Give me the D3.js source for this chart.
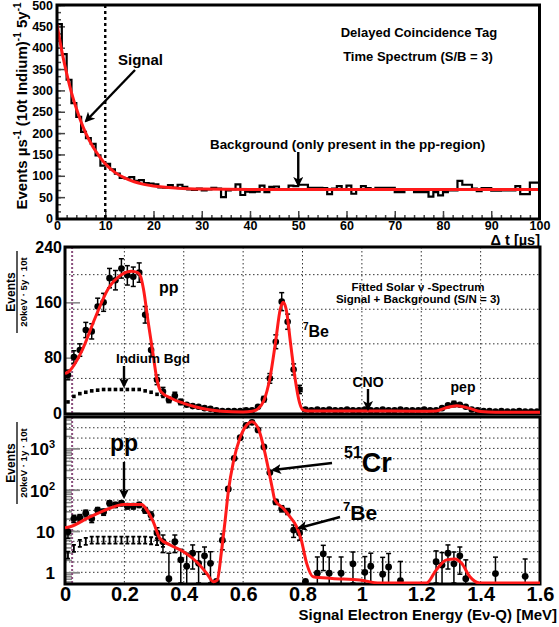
<!DOCTYPE html>
<html><head><meta charset="utf-8">
<script src="https://cdn.jsdelivr.net/npm/d3@7"></script>
<style>
body{margin:0;background:#fff;}
svg text{font-family:"Liberation Sans",Arial,Helvetica,sans-serif;font-weight:bold;fill:#000;}
</style></head><body>
<svg id="chart" width="559" height="627"></svg>
<script>
// ---------------- DATA ----------------
// Top panel: delayed-coincidence time spectrum, 1 µs bins starting at 0
const timeCounts = [
 455,385,325,270,238,203,188,175,148,124,
 128,115,105,95,94,97,88,90,83,82,
 80,73,72,78,72,79,74,68,67,70,
 66,68,72,70,50,66,68,80,55,63,
 62,63,77,62,74,75,67,68,77,76,
 79,79,72,72,72,71,57,70,76,67,
 77,58,68,76,71,68,72,72,72,72,
 62,62,68,68,62,62,62,51,62,54,
 62,66,66,88,79,79,70,64,71,71,
 65,65,66,66,66,76,57,57,84,84];
// fitted curve [t, value]
const timeFit = [[0,455],[1,392],[2,340],[3,295],[4,258],[5,226],[6,199],[7,177],[8,158],[9,142],
 [10,128],[12,108],[14,95],[16,86],[18,80],[20,76],[25,71],[30,69],[40,68],[100,68]];
const timeYTicks = [0,50,100,150,200,250,300,350,400,450,500];
const timeXTicks = [0,10,20,30,40,50,60,70,80,90,100];
const signalWindow = 10;

// Middle panel: fitted solar spectrum, 20 keV bins (centres 0.01 ... 1.59 MeV)
const binWidth = 0.02;
const specCounts = [
 55,81,91,120,118,154,160,195,192,209,
 199,197,203,142,91,48,31,19,25,16,
 12,10,9,7,6,4,3,3,3,3,
 4,4,9,20,50,103,161,132,63,34,
 5,4,5,4,5,4,4,5,4,4,
 5,4,4,5,4,4,5,4,4,4,
 5,4,4,7,11,13,12,9,5,4,
 3,3,2,3,2,2,3,2,2,2];
const specErrors = [
 7,9,9,11,11,12,13,14,14,14,
 14,14,14,12,9,7,6,4,5,4,
 3,3,3,3,2,2,2,2,2,2,
 2,2,3,4,7,10,13,11,8,6,
 2,2,2,2,2,2,2,2,2,2,
 2,2,2,2,2,2,2,2,2,2,
 2,2,2,3,3,4,3,3,2,2,
 2,2,2,2,2,2,2,2,2,2];
const specFit = [[0,57],[0.013,60],[0.056,89],[0.101,137],[0.146,180],[0.19,200],[0.224,205],[0.245,203],
 [0.255,197],[0.264,180],[0.28,132],[0.297,84],[0.309,50],[0.323,31],[0.359,21],[0.4,14],[0.438,9],
 [0.48,5],[0.527,2.5],[0.6,1.5],[0.63,2.5],[0.65,6],[0.67,18],[0.69,50],[0.71,105],[0.725,150],
 [0.735,160],[0.745,150],[0.76,100],[0.775,50],[0.79,15],[0.8,5],[0.82,3],[1.0,3],[1.2,2.5],
 [1.25,3],[1.28,7],[1.32,10.5],[1.36,7],[1.4,2],[1.45,1],[1.6,1]];
const indiumBgd = [16,24,28,30,32,33,34,34,34,34,34,34,34,32,30,27,24];
const specYTicks = [0,80,160,240];
const specYGrid = [50,100,150,200];
const energyTicks = [0,0.2,0.4,0.6,0.8,1,1.2,1.4,1.6];
const thresholdE = 0.024;

// Bottom panel: 51Cr source spectrum (log) [E, value, error]
const crPoints = [
 [0.01,9.6,3],[0.03,20,4],[0.05,21,4],[0.07,27,5],[0.09,20,4],[0.11,32,5],[0.13,29,5],[0.15,47,6],
 [0.17,43,6],[0.19,47,6],[0.21,40,6],[0.23,40,6],[0.25,43,6],[0.27,32,5],[0.29,24,5],[0.31,9,3],
 [0.33,5.5,2.5],[0.35,0.7,2.2],[0.37,5.5,2.5],[0.39,2.0,1.6],[0.41,1.4,1.5],[0.43,2.9,1.7],
 [0.45,1.65,1.5],[0.47,2.5,1.6],[0.49,1.65,1.5],[0.51,0.6,0],[0.53,6,2.5],[0.55,104,10],
 [0.57,575,25],[0.59,1820,40],[0.61,3600,60],[0.63,4270,65],[0.65,2800,50],[0.67,1080,35],
 [0.69,260,16],[0.71,51,7],[0.73,35,6],[0.75,30,5],[0.77,10.5,3.5],[0.79,9,3],[0.81,0.6,0],
 [0.85,0.95,1.4],[0.87,2.8,1.7],[0.89,0.95,1.4],[0.93,0.95,1.4],[0.97,1.6,1.5],[1.01,1.0,1.4],
 [1.03,1.4,1.5],[1.07,0.9,1.4],[1.09,1.35,1.5],[1.13,0.63,1.2],[1.25,1.8,1.5],[1.27,1.5,1.5],
 [1.29,2.9,1.7],[1.31,1.6,1.5],[1.33,2.5,1.6],[1.35,0.7,1.3],[1.45,0.93,1.4],[1.55,0.8,1.3]];
const crFit = [[0,12],[0.017,12.7],[0.084,22],[0.152,35.5],[0.196,44],[0.258,44],[0.276,32],[0.297,16.8],
 [0.32,6.6],[0.354,4.6],[0.398,3.2],[0.443,1.8],[0.477,0.95],[0.5,0.59],[0.513,0.65],[0.527,3.2],
 [0.539,17],[0.55,89],[0.567,470],[0.589,1750],[0.612,3700],[0.629,4400],[0.651,3050],[0.67,1000],
 [0.688,250],[0.698,110],[0.707,56],[0.735,35.6],[0.758,22],[0.78,12.7],[0.796,6],[0.814,1.65],
 [0.836,0.78],[0.9,0.71],[0.993,0.65],[1.06,0.54],[1.1,0.4],[1.218,0.4],[1.25,1.13],[1.285,2],
 [1.313,2.1],[1.336,1.65],[1.364,0.78],[1.397,0.4],[1.6,0.4]];
const crBgd = [2.6,3.8,5.0,5.6,6,6,6,6,6,6,6,6,6,6,5.8,5.5,5];
const crYTicks = [[1,"1",""],[10,"10",""],[100,"10","2"],[1000,"10","3"]];

// ---------------- DRAWING ----------------
const svg = d3.select("#chart");
const defs = svg.append("defs");
defs.append("marker").attr("id","arrow").attr("viewBox","0 0 10 10").attr("refX",8).attr("refY",5)
  .attr("markerWidth",4.2).attr("markerHeight",4.2).attr("orient","auto")
  .append("path").attr("d","M0,0L10,5L0,10L2.5,5Z").attr("fill","#000");
function addClip(id,x0,y0,x1,y1){
  defs.append("clipPath").attr("id",id).append("rect")
    .attr("x",x0).attr("y",y0).attr("width",x1-x0).attr("height",y1-y0);
}
function arrow(x1,y1,x2,y2){
  svg.append("line").attr("x1",x1).attr("y1",y1).attr("x2",x2).attr("y2",y2)
    .attr("stroke","#000").attr("stroke-width",2.4).attr("marker-end","url(#arrow)");
}
function txt(x,y,s,size,anchor){
  return svg.append("text").attr("x",x).attr("y",y).attr("font-size",size)
    .attr("text-anchor",anchor||"start").text(s);
}
function styleAxis(g,size){
  g.select(".domain").remove();
  g.selectAll("text").attr("font-size",size).attr("font-family",null);
}

// ===== TOP PANEL =====
const T = {x0:57,x1:539.5,y0:5,y1:219};
const xT = d3.scaleLinear().domain([0,100]).range([T.x0,T.x1]);
const yT = d3.scaleLinear().domain([0,500]).range([218.5,5]);
addClip("clipT",T.x0,T.y0,T.x1,T.y1);

const tickStyle = (c,w)=>g=>{g.select(".domain").remove();g.selectAll("line").attr("stroke",c).attr("stroke-width",w);};
svg.append("g").attr("transform",`translate(${T.x0},0)`)
  .call(d3.axisRight(yT).tickValues(d3.range(0,500.1,50/3)).tickSize(4).tickFormat(""))
  .call(tickStyle("#444",1.5));
svg.append("g").attr("transform",`translate(${T.x0},0)`)
  .call(d3.axisRight(yT).tickValues(timeYTicks).tickSize(8).tickFormat(""))
  .call(tickStyle("#444",1.5));
svg.append("g").attr("transform",`translate(0,${T.y1})`)
  .call(d3.axisTop(xT).tickValues(d3.range(0,100.1,2)).tickSize(4).tickFormat(""))
  .call(tickStyle("#444",1.5));
svg.append("g").attr("transform",`translate(0,${T.y1})`)
  .call(d3.axisTop(xT).tickValues(timeXTicks).tickSize(8).tickFormat(""))
  .call(tickStyle("#444",1.5));

svg.append("g").attr("transform",`translate(${T.x0},0)`)
  .call(d3.axisLeft(yT).tickValues(timeYTicks).tickSize(0).tickPadding(4))
  .call(g=>styleAxis(g,12.5));
svg.append("g").attr("transform",`translate(0,${T.y1})`)
  .call(d3.axisBottom(xT).tickValues(timeXTicks).tickSize(0).tickPadding(2.5))
  .call(g=>styleAxis(g,12.5));

svg.append("line").attr("x1",xT(signalWindow)).attr("x2",xT(signalWindow)).attr("y1",T.y0).attr("y2",T.y1)
  .attr("stroke","#000").attr("stroke-width",2.4).attr("stroke-dasharray","3,3");

const histPts = timeCounts.map((v,i)=>[i,v]).concat([[timeCounts.length,timeCounts[timeCounts.length-1]]]);
svg.append("path").attr("clip-path","url(#clipT)")
  .attr("d",d3.line().x(d=>xT(d[0])).y(d=>yT(d[1])).curve(d3.curveStepAfter)(histPts))
  .attr("fill","none").attr("stroke","#000").attr("stroke-width",2.2);
svg.append("path").attr("clip-path","url(#clipT)")
  .attr("d",d3.line().x(d=>xT(d[0])).y(d=>yT(d[1])).curve(d3.curveMonotoneX)(timeFit))
  .attr("fill","none").attr("stroke","#ff1a1a").attr("stroke-width",3);

svg.append("rect").attr("x",T.x0).attr("y",T.y0).attr("width",T.x1-T.x0).attr("height",T.y1-T.y0)
  .attr("fill","none").attr("stroke","#000").attr("stroke-width",3);

txt(118,65,"Signal",15);
arrow(135,70,86,121);
txt(419,37,"Delayed Coincidence Tag",13,"middle");
txt(418,61,"Time Spectrum (S/B = 3)",13,"middle");
txt(210,149,"Background (only present in the pp-region)",13.4);
arrow(xT(50),152,xT(50),185);
{
  const t = svg.append("text").attr("transform","translate(27,106) rotate(-90)")
    .attr("text-anchor","middle").attr("font-size",15);
  t.append("tspan").text("Events \u00b5s");
  t.append("tspan").attr("font-size",10).attr("dy",-6).text("-1");
  t.append("tspan").attr("dy",6).text(" (10t Indium)");
  t.append("tspan").attr("font-size",10).attr("dy",-6).text("-1");
  t.append("tspan").attr("dy",6).text(" 5y");
  t.append("tspan").attr("font-size",10).attr("dy",-6).text("-1");
}
txt(540,245,"\u0394 t [\u00b5s]",14.5,"end");

// ===== shared energy scale =====
const xE = d3.scaleLinear().domain([0,1.6]).range([65,540]);

function fracLabel(cy, num, den){
  const g = svg.append("g").attr("transform",`translate(17,${cy}) rotate(-90)`);
  g.append("text").attr("x",0).attr("y",-2).attr("text-anchor","middle").attr("font-size",12).text(num);
  g.append("line").attr("x1",-41).attr("x2",41).attr("y1",0).attr("y2",0).attr("stroke","#000").attr("stroke-width",1.3);
  g.append("text").attr("x",0).attr("y",9.8).attr("text-anchor","middle").attr("font-size",9.6).text(den);
}

// ===== MIDDLE PANEL =====
const M = {x0:65,x1:540,y0:247,y1:414};
const yM = d3.scaleLinear().domain([0,240]).range([413,247]);
addClip("clipM",M.x0,M.y0,M.x1,M.y1);

const gridM = svg.append("g").attr("stroke","#333").attr("stroke-width",1).attr("stroke-dasharray","1.5,2.5");
energyTicks.slice(1,-1).forEach(e=>gridM.append("line").attr("x1",xE(e)).attr("x2",xE(e)).attr("y1",M.y0).attr("y2",M.y1));
specYGrid.forEach(v=>gridM.append("line").attr("x1",M.x0).attr("x2",M.x1).attr("y1",yM(v)).attr("y2",yM(v)));

svg.append("g").attr("transform",`translate(${M.x0},0)`)
  .call(d3.axisRight(yM).tickValues(specYTicks).tickSize(15).tickFormat(""))
  .call(tickStyle("#888",1.6));
svg.append("g").attr("transform",`translate(${M.x0},0)`)
  .call(d3.axisLeft(yM).tickValues(specYTicks).tickSize(0).tickPadding(3))
  .call(g=>styleAxis(g,16));

svg.append("line").attr("x1",xE(thresholdE)).attr("x2",xE(thresholdE)).attr("y1",M.y0).attr("y2",M.y1)
  .attr("stroke","#8a4f7d").attr("stroke-width",2).attr("stroke-dasharray","2,2");

svg.append("rect").attr("x",M.x0).attr("y",M.y0).attr("width",M.x1-M.x0).attr("height",M.y1-M.y0)
  .attr("fill","none").attr("stroke","#000").attr("stroke-width",3);

const gM = svg.append("g").attr("clip-path","url(#clipM)");
indiumBgd.forEach((v,i)=>{
  const cx = xE(binWidth*(i+0.5));
  gM.append("rect").attr("x",cx-1.8).attr("y",yM(v)-1.8).attr("width",3.6).attr("height",3.6).attr("fill","#000");
});
specCounts.forEach((v,i)=>{
  const cx = xE(binWidth*(i+0.5)), e = specErrors[i];
  const y1 = yM(v+e), y2 = yM(Math.max(0,v-e));
  gM.append("line").attr("x1",cx).attr("x2",cx).attr("y1",y1).attr("y2",y2).attr("stroke","#000").attr("stroke-width",1.5);
  if (e>=4){
    gM.append("line").attr("x1",cx-2.5).attr("x2",cx+2.5).attr("y1",y1).attr("y2",y1).attr("stroke","#000").attr("stroke-width",1.5);
    gM.append("line").attr("x1",cx-2.5).attr("x2",cx+2.5).attr("y1",y2).attr("y2",y2).attr("stroke","#000").attr("stroke-width",1.5);
  }
  gM.append("circle").attr("cx",cx).attr("cy",yM(v)).attr("r",3.3).attr("fill","#000");
});
svg.append("path").attr("clip-path","url(#clipM)")
  .attr("d",d3.line().x(d=>xE(d[0])).y(d=>Math.min(yM(d[1]),412.5)).curve(d3.curveMonotoneX)(specFit))
  .attr("fill","none").attr("stroke","#ff1a1a").attr("stroke-width",3);

fracLabel(292,"Events","20keV \u00b7 5y \u00b7 10t");

txt(159,293,"pp",16);
txt(153,363,"Indium Bgd",13.5,"middle");
arrow(124,366,124,386);
txt(418,291,"Fitted Solar \u03bd -Spectrum",11.5,"middle");
txt(418,303,"Signal + Background (S/N = 3)",11.5,"middle");
{
  const t = svg.append("text").attr("x",303).attr("y",337).attr("font-size",16);
  t.append("tspan").attr("font-size",10).attr("dy",-7).text("7");
  t.append("tspan").attr("dy",7).text("Be");
}
txt(368,387,"CNO",14,"middle");
arrow(368,389,368,409);
txt(463,392,"pep",14,"middle");

// ===== BOTTOM PANEL =====
const B = {x0:65,x1:540,y0:417,y1:584};
const yB = d3.scaleLog().domain([1,1000]).range([572.3,448.4]);
const yBc = v => Math.min(B.y1-1, yB(Math.max(v,0.01)));
addClip("clipB",B.x0,B.y0,B.x1,B.y1);

const gridB = svg.append("g").attr("stroke","#333").attr("stroke-width",1).attr("stroke-dasharray","1.5,2.5");
energyTicks.slice(1,-1).forEach(e=>gridB.append("line").attr("x1",xE(e)).attr("x2",xE(e)).attr("y1",B.y0).attr("y2",B.y1));
d3.range(-1,15).map(k=>Math.pow(10,k/4)).filter(v=>yB(v)>B.y0+2&&yB(v)<B.y1-2)
  .forEach(v=>gridB.append("line").attr("x1",B.x0).attr("x2",B.x1).attr("y1",yB(v)).attr("y2",yB(v)));

const minorB = [];
[0.1,1,10,100,1000].forEach(d=>d3.range(2,10).forEach(m=>{const v=d*m; if(yB(v)>B.y0&&yB(v)<B.y1) minorB.push(v);}));
svg.append("g").attr("transform",`translate(${B.x0},0)`)
  .call(d3.axisRight(yB).tickValues(minorB).tickSize(7).tickFormat(""))
  .call(tickStyle("#888",1.6));
svg.append("g").attr("transform",`translate(${B.x0},0)`)
  .call(d3.axisRight(yB).tickValues(crYTicks.map(d=>d[0])).tickSize(15).tickFormat(""))
  .call(tickStyle("#888",1.8));
crYTicks.forEach(([v,b,e])=>{
  const t = svg.append("text").attr("x",55).attr("y",yB(v)+7).attr("text-anchor","end").attr("font-size",17);
  t.append("tspan").text(b);
  if (e) t.append("tspan").attr("font-size",11).attr("dy",-7).text(e);
});

svg.append("line").attr("x1",xE(thresholdE)).attr("x2",xE(thresholdE)).attr("y1",B.y0).attr("y2",B.y1)
  .attr("stroke","#8a4f7d").attr("stroke-width",2).attr("stroke-dasharray","2,2");

svg.append("rect").attr("x",B.x0).attr("y",B.y0).attr("width",B.x1-B.x0).attr("height",B.y1-B.y0)
  .attr("fill","none").attr("stroke","#000").attr("stroke-width",3);

const gB = svg.append("g").attr("clip-path","url(#clipB)");
crBgd.forEach((v,i)=>{
  const cx = xE(binWidth*(i+0.5)), cy = yB(v);
  gB.append("path").attr("d",`M${cx-2},${cy-3.5}H${cx+2}M${cx},${cy-3.5}V${cy+3.5}M${cx-2},${cy+3.5}H${cx+2}`)
    .attr("stroke","#000").attr("stroke-width",1.8).attr("fill","none");
});
crPoints.forEach(([e,v,err])=>{
  const cx = xE(e);
  if (err>0){
    const y1 = yBc(v+err), y2 = v-err>0 ? yBc(v-err) : B.y1;
    gB.append("line").attr("x1",cx).attr("x2",cx).attr("y1",y1).attr("y2",y2).attr("stroke","#000").attr("stroke-width",1.5);
    gB.append("line").attr("x1",cx-2.5).attr("x2",cx+2.5).attr("y1",y1).attr("y2",y1).attr("stroke","#000").attr("stroke-width",1.5);
    if (v-err>0) gB.append("line").attr("x1",cx-2.5).attr("x2",cx+2.5).attr("y1",y2).attr("y2",y2).attr("stroke","#000").attr("stroke-width",1.5);
  }
  gB.append("circle").attr("cx",cx).attr("cy",yB(v)).attr("r",3.4).attr("fill","#000");
});
svg.append("path").attr("clip-path","url(#clipB)")
  .attr("d",d3.line().x(d=>xE(d[0])).y(d=>yBc(d[1])).curve(d3.curveMonotoneX)(crFit))
  .attr("fill","none").attr("stroke","#ff1a1a").attr("stroke-width",3);

svg.append("g").attr("transform",`translate(0,${B.y1})`)
  .call(d3.axisBottom(xE).tickValues(energyTicks).tickSize(0).tickPadding(3).tickFormat(d=>String(d)))
  .call(g=>styleAxis(g,20));
txt(557,620,"Signal Electron Energy (E\u03bd-Q) [MeV]",15,"end");

fracLabel(463,"Events","20keV \u00b7 1y \u00b7 10t");

txt(124,451,"pp",23,"middle");
arrow(124,462,124,497);
{
  const t = svg.append("text").attr("x",344).attr("y",472).attr("font-size",27);
  t.append("tspan").attr("font-size",16).attr("dy",-14).text("51");
  t.append("tspan").attr("dy",14).text("Cr");
}
arrow(332,463,273,470);
{
  const t = svg.append("text").attr("x",343).attr("y",520).attr("font-size",21);
  t.append("tspan").attr("font-size",13).attr("dy",-9).text("7");
  t.append("tspan").attr("dy",9).text("Be");
}
arrow(340,517,299,528);
</script>
</body></html>
